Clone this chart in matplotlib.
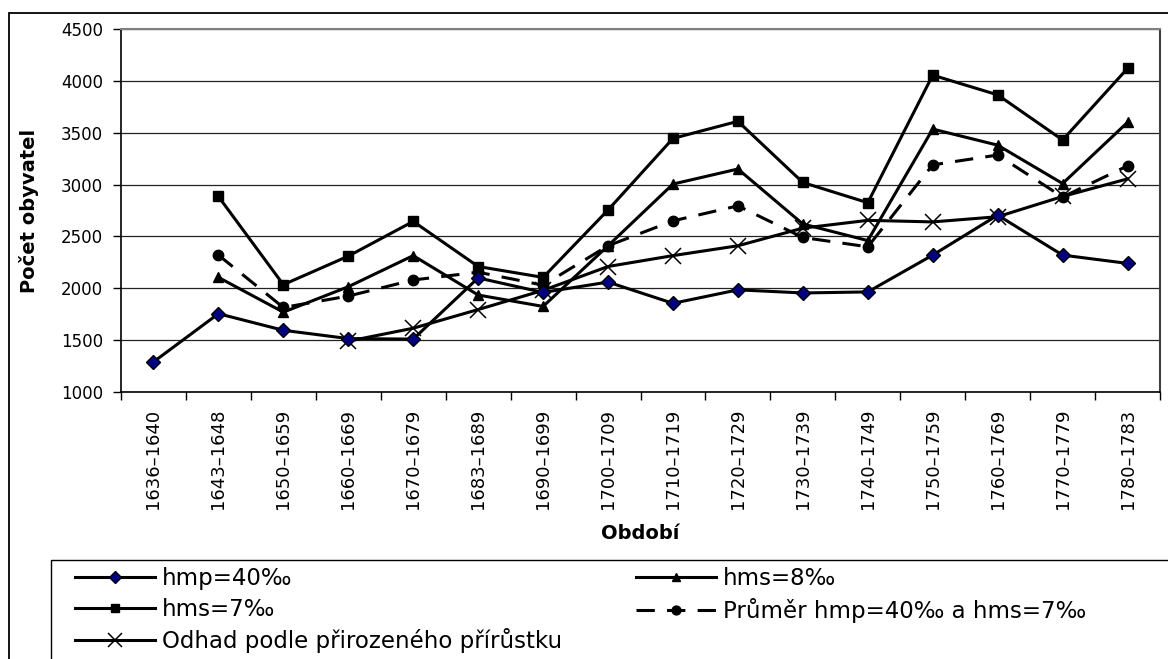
import numpy as np
import matplotlib
matplotlib.use("Agg")
from matplotlib import pyplot as plt
from matplotlib.patches import Rectangle

periods = ['1636–1640', '1643–1648', '1650–1659', '1660–1669', '1670–1679',
           '1683–1689', '1690–1699', '1700–1709', '1710–1719', '1720–1729',
           '1730–1739', '1740–1749', '1750–1759', '1760–1769', '1770–1779',
           '1780–1783']
nan = np.nan
hmp_40 = [1290, 1755, 1595, 1515, 1510, 2100, 1960, 2060, 1855, 1985,
          1955, 1965, 2320, 2705, 2320, 2240]
hms_8 = [nan, 2105, 1770, 2015, 2315, 1935, 1825, 2410, 3005, 3150,
         2620, 2460, 3535, 3380, 3010, 3600]
hms_7 = [nan, 2885, 2035, 2310, 2645, 2210, 2105, 2755, 3445, 3610,
         3020, 2825, 4055, 3865, 3430, 4120]
prumer = [nan, 2320, 1815, 1925, 2080, 2155, 2030, 2410, 2650, 2795,
          2490, 2400, 3190, 3285, 2880, 3180]
odhad = [nan, nan, nan, 1490, 1615, 1795, 1980, 2210, 2315, 2410,
         2580, 2655, 2640, 2690, 2885, 3055]

W, H = 1168, 659


def fx(px):
    return px / W


def fy(py):
    return 1 - py / H


fig = plt.figure(figsize=(W / 100, H / 100), dpi=100)
ax = fig.add_axes([fx(121), fy(392), fx(1160) - fx(121), fy(29) - fy(392)])

x = np.arange(len(periods))
lw = 2.2
l_hmp, = ax.plot(x, hmp_40, color='black', lw=lw, marker='D', ms=7.5,
                 mfc='#000080', mec='black', mew=1, zorder=6)
l_hms8, = ax.plot(x, hms_8, color='black', lw=lw, marker='^', ms=7.5,
                  mfc='black', mec='black', zorder=4)
l_hms7, = ax.plot(x, hms_7, color='black', lw=lw, marker='s', ms=7,
                  mfc='black', mec='black', zorder=4)
l_pr, = ax.plot(x, prumer, color='black', lw=lw, marker='o', ms=7.5,
                mfc='black', mec='black', dashes=(6, 4), zorder=4)
l_odh, = ax.plot(x, odhad, color='black', lw=lw, marker='x', ms=12,
                 mec='black', mew=1.1, zorder=5)

ax.set_xlim(-0.5, len(periods) - 0.5)
ax.set_ylim(1000, 4500)
ax.set_yticks(np.arange(1000, 4501, 500))
ax.yaxis.grid(True, color='#222222', lw=0.9)
ax.set_axisbelow(True)

ax.set_xticks(x)
ax.set_xticklabels(periods, rotation=90, fontsize=13)
ax.set_xticks(np.arange(-0.5, len(periods), 1), minor=True)
ax.tick_params(axis='x', which='major', length=0, pad=12)
ax.tick_params(axis='x', which='minor', length=6, width=1, direction='out')
ax.tick_params(axis='y', labelsize=12, length=6, width=1, pad=7)

for side in ['left', 'bottom']:
    ax.spines[side].set_color('black')
    ax.spines[side].set_linewidth(1.2)
ax.spines['top'].set_color('#808080')
ax.spines['top'].set_linewidth(1.5)
ax.spines['right'].set_color('#404040')
ax.spines['right'].set_linewidth(1.5)

ax.set_xlabel('Období', fontsize=14, fontweight='bold', labelpad=11)
ax.set_ylabel('Počet obyvatel', fontsize=14, fontweight='bold', labelpad=16)

# outer chart frame
fig.add_artist(Rectangle((fx(9), fy(H + 20)), fx(W + 20) - fx(9), fy(13) - fy(H + 20),
                         transform=fig.transFigure, fill=False, ec='black', lw=1.3))
# legend box
fig.add_artist(Rectangle((fx(51), fy(H + 20)), fx(W + 20) - fx(51), fy(560) - fy(H + 20),
                         transform=fig.transFigure, fill=False, ec='black', lw=1))

leg_kw = dict(frameon=False, loc='upper left', fontsize=16.5, handlelength=3.5,
              handletextpad=0.3, labelspacing=0.33, borderpad=0, borderaxespad=0,
              markerscale=0.85)
leg1 = fig.legend([l_hmp, l_hms7, l_odh],
                  ['hmp=40‰', 'hms=7‰', 'Odhad podle přirozeného přírůstku'],
                  bbox_to_anchor=(fx(75), fy(567)), **leg_kw)
leg2 = fig.legend([l_hms8, l_pr],
                  ['hms=8‰', 'Průměr hmp=40‰ a hms=7‰'],
                  bbox_to_anchor=(fx(636), fy(567)), **leg_kw)

fig.savefig('out.png', dpi=100)
